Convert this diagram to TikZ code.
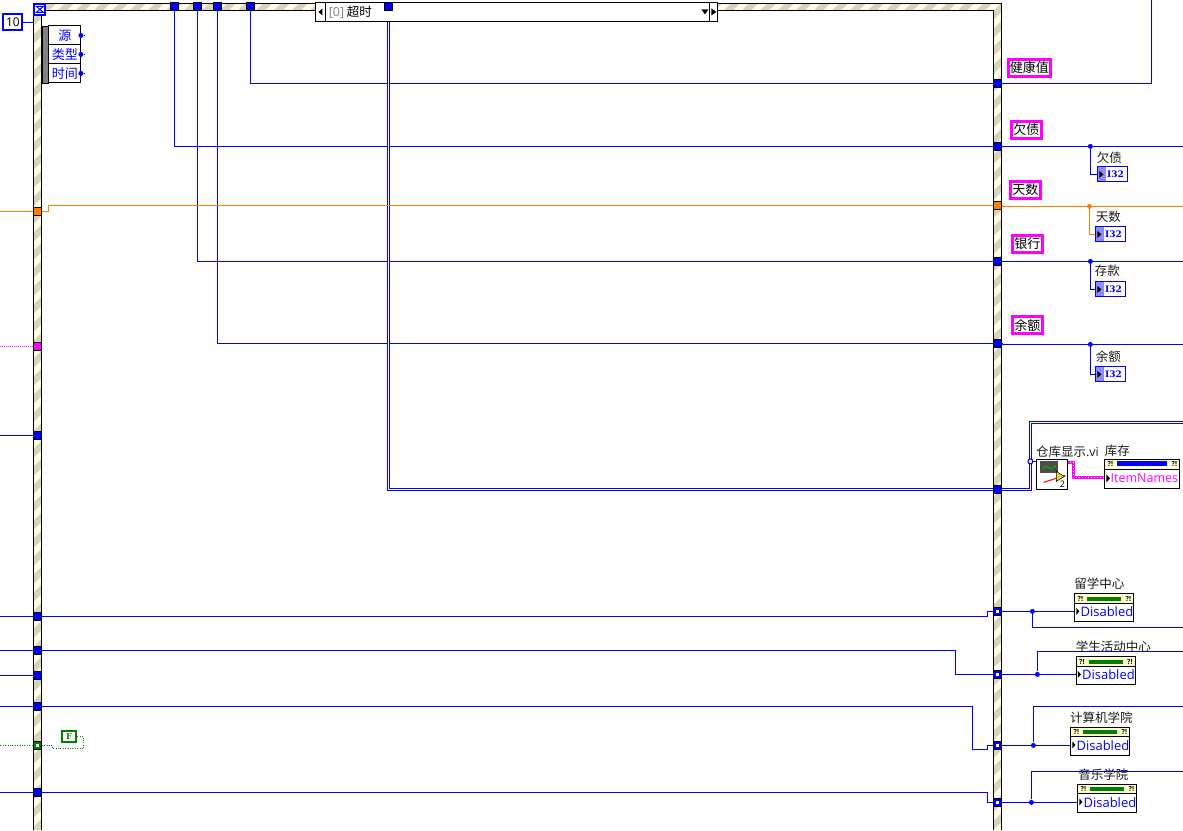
\documentclass[tikz,border=0pt]{standalone}
\usepackage{fontspec}
\setmainfont{Noto Sans CJK SC}
\newfontfamily\latinfont{Open Sans}
\newfontfamily\typefont{DejaVu Serif}
\usepackage{xcolor}
\usetikzlibrary{positioning}
\usetikzlibrary{backgrounds}
\definecolor{wireblue}{HTML}{0000FF}
\definecolor{wireorange}{HTML}{FF8000}
\definecolor{wirepink}{HTML}{FF00FF}
\definecolor{wiregreen}{HTML}{007F00}
\definecolor{framecream}{HTML}{FFFBE6}
\definecolor{framegrey}{HTML}{D8D4BC}
\definecolor{barcream}{HTML}{FFFFD0}
\definecolor{textgrey}{HTML}{1A1A1A}
\newcommand{\px}[1]{\fontsize{#1}{#1}\selectfont}
\begin{document}
\begin{tikzpicture}[x=1pt,y=-1pt,line width=1pt,
    tunnel/.style={rectangle,fill=wireblue,draw=black,line width=0.6pt,minimum size=8pt,inner sep=0pt},
    orangetunnel/.style={tunnel,fill=wireorange},
    pinktunnel/.style={tunnel,fill=wirepink},
    greentunnel/.style={tunnel,fill=wiregreen},
    tunneldot/.style={rectangle,fill=white,draw=none,minimum size=2.4pt,inner sep=0pt},
    junction/.style={circle,fill=wireblue,inner sep=0pt,minimum size=5pt},
    wire/.style={wireblue},
    doublewire/.style={wireblue,double=white,double distance=1pt,line width=1pt},
    localvar/.style={rectangle,draw=wirepink,line width=3pt,fill=white,inner sep=0pt,minimum height=17pt,text=black,font=\px{13}},
    wirelabel/.style={inner sep=0pt,text=textgrey,font=\px{12.5}},
    intbox/.style={rectangle,draw=wireblue,fill=white,minimum width=30pt,minimum height=15pt,inner sep=0pt,text=wireblue,font=\typefont\bfseries\px{9}},
    ringbox/.style={rectangle,draw=black,fill=white,minimum width=59pt,minimum height=28pt,inner sep=0pt},
    eventrow/.style={rectangle,draw=black,fill=white,minimum width=32pt,minimum height=19pt,inner sep=0pt,text=wireblue,font=\px{13}}]
  \useasboundingbox (-0.4,-0.4) rectangle (1182.6,829.6);

  % frames of the loop and the case
  \begin{scope}
    \clip (33,3) rectangle (1001,10) (33,3) rectangle (41,830) (993,3) rectangle (1001,830);
    \fill [framecream] (0,0) rectangle (1183,830);
    \foreach \c in {0,18,...,2016}
      \draw [framegrey,line width=6.4pt] (0,\c) -- (1183,\c-1183);
  \end{scope}
  \draw [black] (33,830) |- (1001,3) -- (1001,830);
  \draw [black] (41,830) |- (993,10) -- (993,830);

  % selector of the case
  \node (sel) at (516.5,11.5) [rectangle,draw=black,fill=white,minimum width=402pt,minimum height=19pt,inner sep=0pt] {};
  \node (seltext) at (350,11.5) [inner sep=0pt,font=\px{12.5}] {{\latinfont\color{gray}[0]} 超时};
  \draw [black] (325,2) -- (325,21);
  \draw [black] (709,2) -- (709,21);
  \fill [black] (318,11.5) -- (322,8) -- (322,15) -- cycle;
  \fill [black] (701,9) -- (708,9) -- (704.5,14) -- cycle;
  \fill [black] (716,11.5) -- (711,8) -- (711,15) -- cycle;

  % tunnels on the case
  \node (tqian) at (174,6) [tunnel] {};
  \node (tcun) at (197,6) [tunnel] {};
  \node (tyu) at (217,6) [tunnel] {};
  \node (tjian) at (250,6) [tunnel] {};
  \node (tcang) at (388,6) [tunnel] {};
  \node (rjian) at (997,83) [tunnel] {};
  \node (rqian) at (997,146) [tunnel] {};
  \node (rtian) at (997,205) [orangetunnel] {};
  \node (rcun) at (997,261) [tunnel] {};
  \node (ryu) at (997,343) [tunnel] {};
  \node (rcang) at (997,489) [tunnel] {};
  \node (rliu) at (997,611) [tunnel] {};
  \node (rxue) at (997,674) [tunnel] {};
  \node (rji) at (997,745) [tunnel] {};
  \node (ryin) at (997,802) [tunnel] {};
  \node (rliudot) at (997,611) [tunneldot] {};
  \node (rxuedot) at (997,674) [tunneldot] {};
  \node (rjidot) at (997,745) [tunneldot] {};
  \node (ryindot) at (997,802) [tunneldot] {};

  % tunnels on the loop
  \node (ltian) at (37,211) [orangetunnel] {};
  \node (lpink) at (37,346) [pinktunnel] {};
  \node (la) at (37,435) [tunnel] {};
  \node (lliu) at (37,616) [tunnel] {};
  \node (lxue) at (37,650) [tunnel] {};
  \node (lb) at (37,675) [tunnel] {};
  \node (lji) at (37,706) [tunnel] {};
  \node (lgreen) at (37,745) [greentunnel] {};
  \node (lyin) at (37,792) [tunnel] {};
  \node (lgreendot) at (37,745) [tunneldot] {};

  % timeout and event node
  \node (ten) at (12.5,22) [rectangle,draw=wireblue,line width=2pt,fill=white,minimum width=19pt,minimum height=16pt,inner sep=0pt,font=\latinfont\px{12}] {10};
  \node (glass) at (39.5,9) [rectangle,draw=wireblue,line width=2pt,fill=white,minimum size=11pt,inner sep=0pt] {};
  \draw [wireblue] (36,6) -- (43,6) -- (36,12) -- (43,12) -- cycle;
  \node (handle) at (45.5,55) [rectangle,draw=black,fill=gray,minimum width=6pt,minimum height=57pt,inner sep=0pt] {};
  \foreach \n/\y/\t in {yuan/35/源,lei/54/类型,shi/73/时间} {
    \node (\n) at (64.5,\y) [eventrow] {\t};
    \node (\n dot) at (80.5,\y) [junction] {};
    \coordinate (\n end) at (85,\y);
    \draw [wireblue] (\n dot) -- (\n end);
  }

  % local variables
  \node (vjian) at (1029,67.5) [localvar,minimum width=42pt] {健康值};
  \node (vqian) at (1026,129.5) [localvar,minimum width=30pt] {欠债};
  \node (vtian) at (1025,189.5) [localvar,minimum width=30pt] {天数};
  \node (vyin) at (1027,243.5) [localvar,minimum width=30pt] {银行};
  \node (vyu) at (1027,325) [localvar,minimum width=30pt] {余额};

  % I32 indicators
  \foreach \n/\x/\y/\t/\lx/\ly in {iqian/1112/174/欠债/1109/157,itian/1110/234/天数/1108/216,icun/1110/289/存款/1107/270,iyu/1110/374/余额/1108/356} {
    \node (\n) at (\x,\y) [intbox] {\hspace*{6pt}I32};
    \fill [wireblue!45] (\x-14.5,\y-7) rectangle (\x-6,\y+7);
    \fill [black] (\x-13,\y-3.5) -- (\x-9,\y) -- (\x-13,\y+3.5) -- cycle;
    \node (\n label) at (\lx,\ly) [wirelabel] {\t};
  }

  % Disabled indicators
  \foreach \n/\x/\y/\t/\lx/\ly in {dliu/1104/607.5/留学中心/1099/583,dxue/1105.5/670.5/学生活动中心/1113/646,dji/1100/741/计算机学院/1101/717,dyin/1107/798/音乐学院/1103/774} {
    \node (\n) at (\x,\y) [ringbox] {};
    \fill [barcream] (\x-29,\y-13.5) rectangle (\x+29,\y-4.5);
    \draw [black] (\x-29.5,\y-4.5) -- (\x+29.5,\y-4.5);
    \fill [wiregreen] (\x-17,\y-11) rectangle (\x+17,\y-7);
    \node at (\x-24,\y-9) [inner sep=0pt,font=\latinfont\bfseries\px{7}] {?!};
    \node at (\x+24,\y-9) [inner sep=0pt,font=\latinfont\bfseries\px{7}] {?!};
    \fill [black] (\x-28,\y) -- (\x-25,\y+3.5) -- (\x-28,\y+7) -- cycle;
    \node at (\x+2.5,\y+4) [inner sep=0pt,text=wireblue,font=\latinfont\px{13}] {Disabled};
    \node (\n label) at (\lx,\ly) [wirelabel] {\t};
  }

  % warehouse subVI and cluster
  \node (subvi) at (1051.5,474) [rectangle,draw=black,fill=white,minimum width=31pt,minimum height=30pt,inner sep=0pt] {};
  \fill [black!70] (1040,461) rectangle (1058,473);
  \draw [green!70!black] (1042,469) .. controls (1046,460) and (1048,474) .. (1056,465);
  \draw [red] (1043,482) -- (1065,475);
  \draw [black,fill=yellow!85!black,line width=0.5pt] (1056,471) -- (1064,476) -- (1056,481) -- cycle;
  \node at (1062,484) [inner sep=0pt,font=\latinfont\px{9}] {2};
  \node (subvilabel) at (1067,451) [wirelabel] {仓库显示{\latinfont .vi}};
  \node (kulabel) at (1117,450) [wirelabel] {库存};
  \node (ku) at (1141.5,473.5) [rectangle,draw=black,fill=white,minimum width=75pt,minimum height=29pt,inner sep=0pt] {};
  \fill [barcream] (1104.5,459.5) rectangle (1178.5,468);
  \draw [black] (1104,469) -- (1179,469);
  \fill [wireblue] (1117,461) rectangle (1167,466);
  \node at (1110,464) [inner sep=0pt,font=\latinfont\bfseries\px{7}] {?!};
  \node at (1174,464) [inner sep=0pt,font=\latinfont\bfseries\px{7}] {?!};
  \fill [black] (1106,474) -- (1109.5,478) -- (1106,482) -- cycle;
  \node at (1144,478) [inner sep=0pt,text=wirepink,font=\latinfont\px{12.5}] {ItemNames};
  \node (cangdot) at (1030,461) [circle,draw=wireblue,fill=white,inner sep=0pt,minimum size=5pt] {};

  % false constant
  \node (fconst) at (68.5,736) [rectangle,draw=wiregreen,line width=2pt,fill=white,minimum width=14pt,minimum height=11pt,inner sep=0pt,text=wiregreen,font=\typefont\bfseries\px{8}] {F};

  % junctions on the wires
  \node (jqian) at (1090,146) [junction] {};
  \node (jtian) at (1089,206) [junction,fill=wireorange] {};
  \node (jcun) at (1090,261) [junction] {};
  \node (jyu) at (1090,344) [junction] {};
  \node (jliu) at (1032,611) [junction] {};
  \node (jxue) at (1037,674) [junction] {};
  \node (jji) at (1033,745) [junction] {};
  \node (jyin) at (1031,802) [junction] {};

  % free ends
  \coordinate (ejian) at (1151,0);
  \coordinate (eqian) at (1183,146);
  \coordinate (etian) at (1183,206);
  \coordinate (ecun) at (1183,261);
  \coordinate (eyu) at (1183,344);
  \coordinate (ecang) at (1183,422);
  \coordinate (eliu) at (1183,627);
  \coordinate (exue) at (1183,651);
  \coordinate (eji) at (1183,706);
  \coordinate (eyin) at (1183,771);
  \coordinate (wtian) at (0,211);
  \coordinate (wpink) at (0,346);
  \coordinate (wa) at (0,435);
  \coordinate (wliu) at (0,616);
  \coordinate (wxue) at (0,650);
  \coordinate (wb) at (0,675);
  \coordinate (wji) at (0,706);
  \coordinate (wgreen) at (0,745);
  \coordinate (wyin) at (0,792);

  \begin{scope}[on background layer]
    \draw [wire] (ten) -- (33,22);
    \draw [wire] (tjian) |- (rjian);
    \draw [wire] (rjian) -| (ejian);
    \draw [wire] (tqian) |- (rqian);
    \draw [wire] (rqian) -- (eqian);
    \draw [wire] (tcun) |- (rcun);
    \draw [wire] (rcun) -- (ecun);
    \draw [wire] (tyu) |- (ryu);
    \draw [wire] (ryu.center) -- (ryu.east) -- (ryu.east |- eyu) -- (eyu);
    \draw [doublewire] (tcang) |- (rcang);
    \draw [doublewire] (rcang) -- (1030,489) |- (ecang);
    \draw [wireblue] (cangdot) -- (subvi.west |- cangdot);
    \draw [wireorange] (wtian) -- (ltian);
    \draw [wireorange] (ltian) -- (48,211) -- (48,205) -- (rtian);
    \draw [wireorange] (rtian.center) -- (rtian.east) -- (rtian.east |- etian) -- (etian);
    \draw [wire] (jqian) |- (iqian);
    \draw [wireorange] (jtian) |- (itian);
    \draw [wire] (jcun) |- (icun);
    \draw [wire] (jyu) |- (iyu);
    \draw [wirepink,line width=3.5pt] (1067,462) -- (1073,462) -- (1073,477) -- (ku.west |- 0,477);
    \draw [white,line width=1pt,dash pattern=on 1pt off 2pt] (1067,462) -- (1073,462) -- (1073,477) -- (ku.west |- 0,477);
    \draw [wirepink,line width=1.4pt,dash pattern=on 1pt off 1pt] (wpink) -- (lpink);
    \draw [wire] (wa) -- (la);
    \draw [wire] (wliu) -- (lliu);
    \draw [wire] (lliu) -- (987,616) -- (987,611) -- (rliu);
    \draw [wire] (rliu) -- (dliu.west |- rliu);
    \draw [wire] (jliu) |- (eliu);
    \draw [wire] (wxue) -- (lxue);
    \draw [wire] (lxue) -- (955,650) -- (955,674) -- (rxue);
    \draw [wire] (rxue) -- (dxue.west |- rxue);
    \draw [wire] (jxue) |- (exue);
    \draw [wire] (wb) -- (lb);
    \draw [wire] (wji) -- (lji);
    \draw [wire] (lji) -- (972,706) -- (972,749) -- (987,749) -- (987,745) -- (rji);
    \draw [wire] (rji) -- (dji.west |- rji);
    \draw [wire] (jji) |- (eji);
    \draw [wire] (wyin) -- (lyin);
    \draw [wire] (lyin) -- (987,792) -- (987,802) -- (ryin);
    \draw [wire] (ryin) -- (dyin.west |- ryin);
    \draw [wire] (jyin) |- (eyin);
    \draw [wiregreen,dotted] (wgreen) -- (lgreen);
    \draw [wiregreen,dotted] (lgreen) -- (52,745) -- (52,748) -- (83,748) -- (83,736) -- (fconst);
  \end{scope}
\end{tikzpicture}
\end{document}
